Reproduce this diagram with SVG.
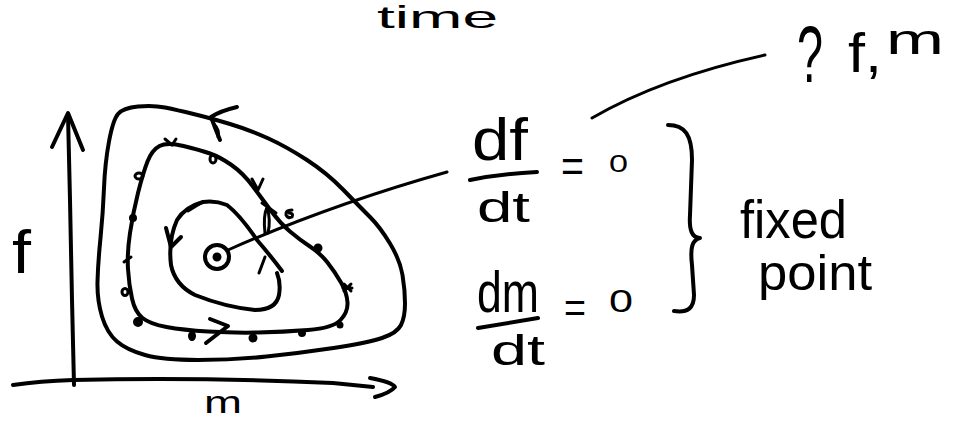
<svg xmlns="http://www.w3.org/2000/svg" width="964" height="423" viewBox="0 0 964 423">
<style>
.s{fill:none;stroke:#000;stroke-width:4;stroke-linecap:round;stroke-linejoin:round}
.t{fill:none;stroke:#000;stroke-width:3;stroke-linecap:round;stroke-linejoin:round}
.d{fill:#000;stroke:#000;stroke-width:2}
.o{fill:none;stroke:#000;stroke-width:3}
text{font-family:"Liberation Sans","DejaVu Sans",sans-serif;fill:#000}
</style>
<rect width="964" height="423" fill="#fff"/>
<g id="axes">
<path class="s" d="M74,385 L72,300 L70,200 L68,115"/>
<path class="s" d="M52,147 L68,113 L83,150"/>
<path class="s" d="M13,385 Q40,381 73,380 Q200,377 333,383 L373,387"/>
<path class="s" d="M370,378 Q392,382 395,387 Q390,393 375,397"/>
<text x="12" y="273" font-size="62" textLength="19" lengthAdjust="spacingAndGlyphs">f</text>
<text x="204" y="413" font-size="32" textLength="38" lengthAdjust="spacingAndGlyphs">m</text>
</g>
<g id="outer-orbit">
<path class="s" d="M138,106.5 Q153,105 165,107.5 Q177,110 193.5,114 Q210,118 230,124 Q250,130 268.5,138.5 Q287,147 307,160 Q327,173 343.5,190 Q360,207 370,217 Q380,227 390,243.5 Q400,260 402.5,275 Q405,290 405,303.5 Q405,317 401,325 Q397,333 382,338 Q367,343 333.5,348 Q300,353 266.5,356.5 Q233,360 198,360 Q163,360 145,355 Q127,350 117,341.5 Q107,333 102,316.5 Q97,300 97.5,281.5 Q98,263 100.5,238 Q103,213 104,188 Q105,163 109,141.5 Q113,120 118,114 Q123,108 138,106.5 Z"/>
<path class="s" d="M237,107 Q220,111 211,117 Q215,128 220,140"/>
<path class="t" d="M214,124 Q220,130 218,137"/>
</g>
<g id="middle-orbit">
<path class="s" d="M183.5,146 Q200,150 210,153.5 Q220,157 231.5,165 Q243,173 253,186.5 Q263,200 271.5,211.5 Q280,223 290,231.5 Q300,240 310,246.5 Q320,253 327.5,262.5 Q335,272 341,282.5 Q347,293 347.5,302.5 Q348,312 340.5,320 Q333,328 308,330 Q283,332 258,332.5 Q233,333 208,331.5 Q183,330 166.5,327 Q150,324 142.5,318 Q135,312 132,298.5 Q129,285 128,269 Q127,253 130,233 Q133,213 138,193 Q143,173 147.5,161.5 Q152,150 159.5,146 Q167,142 183.5,146 Z"/>
<path class="s" d="M210,319 L228,326 L206,343"/>
<path class="t" d="M265,233 Q263,216 267,207 Q271,220 268,233 M262,203 L276,213"/>
<path class="t" d="M252,179 L258,190 L263,179"/>
<path class="t" d="M165,139 L172,145 L176,139"/>
<ellipse class="o" cx="213" cy="159" rx="3" ry="4"/>
<path class="t" d="M292,210 Q285,210 286,215 Q288,219 292,217 Q294,213 289,213"/>
<circle class="d" cx="318" cy="248" r="3.5"/>
<path class="t" d="M344,284 L351,291 M351,284 L344,291 M343,288 L352,288"/>
<circle class="d" cx="340" cy="325" r="2.5"/>
<circle class="d" cx="302" cy="333" r="3"/>
<circle class="d" cx="253" cy="338" r="3.5"/>
<ellipse class="d" cx="192" cy="336" rx="3" ry="4"/>
<circle class="d" cx="138" cy="322" r="4"/>
<ellipse class="o" cx="125" cy="292" rx="3" ry="3.5"/>
<path class="t" d="M124,262 L131,257"/>
<circle class="d" cx="133" cy="218" r="3"/>
<ellipse class="o" cx="139" cy="176" rx="4" ry="3"/>
</g>
<g id="inner-orbit">
<path class="s" d="M282,271 Q270,255 257,240 Q240,215 227,205 Q215,200 203,202 Q185,207 177,220 Q168,240 171,265 Q175,285 195,295 Q225,307 255,310 Q276,310 279,295 Q281,283 277,273"/>
<path class="s" d="M166,228 L171,247 L181,237"/>
<path class="t" d="M188,211 L201,203"/>
<path class="t" d="M259,273 L265,257"/>
</g>
<g id="fixed-point">
<circle class="s" cx="217" cy="257" r="12"/>
<circle class="d" cx="217" cy="257" r="3.5"/>
</g>
<g id="connectors">
<path class="t" d="M228,250 Q330,205 447,172"/>
<path class="t" d="M592,118 Q661,78 765,55"/>
</g>
<g id="time-label">
<text x="377" y="28" font-size="32" textLength="121" lengthAdjust="spacingAndGlyphs">time</text>
</g>
<g id="question-label">
<text x="797" y="82" font-size="80" textLength="26" lengthAdjust="spacingAndGlyphs">?</text>
<text x="848" y="72" font-size="56" textLength="34" lengthAdjust="spacingAndGlyphs">f,</text>
<text x="886" y="54" font-size="42" textLength="58" lengthAdjust="spacingAndGlyphs">m</text>
</g>
<g id="df-eq">
<text x="472" y="160" font-size="60" textLength="56" lengthAdjust="spacingAndGlyphs">df</text>
<path class="s" d="M470,180 Q500,174 537,172"/>
<text x="477" y="222" font-size="42" textLength="53" lengthAdjust="spacingAndGlyphs">dt</text>
<text x="561" y="182" font-size="46" textLength="23" lengthAdjust="spacingAndGlyphs">=</text>
<text x="609" y="172" font-size="24" textLength="19" lengthAdjust="spacingAndGlyphs">0</text>
</g>
<g id="dm-eq">
<text x="477" y="312" font-size="58" textLength="62" lengthAdjust="spacingAndGlyphs">dm</text>
<path class="s" d="M478,328 L538,318"/>
<text x="491" y="365" font-size="42" textLength="54" lengthAdjust="spacingAndGlyphs">dt</text>
<text x="564" y="322" font-size="42" textLength="22" lengthAdjust="spacingAndGlyphs">=</text>
<text x="609" y="312" font-size="31" textLength="24" lengthAdjust="spacingAndGlyphs">0</text>
</g>
<g id="brace">
<path class="s" d="M668,125 C685,125 692,135 692,160 L690,215 C689,230 692,238 700,238 C692,240 690,248 692,265 L694,295 C694,308 688,313 674,311"/>
</g>
<g id="fixed-point-label">
<text x="740" y="238" font-size="54" textLength="107" lengthAdjust="spacingAndGlyphs">fixed</text>
<text x="758" y="290" font-size="50" textLength="114" lengthAdjust="spacingAndGlyphs">point</text>
</g>
</svg>
